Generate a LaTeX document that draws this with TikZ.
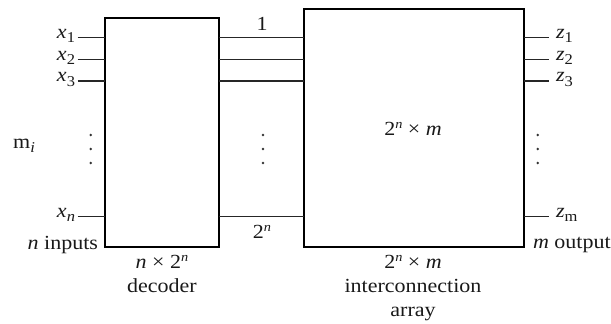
\documentclass[tikz,border=0pt]{standalone}
\usepackage{fontspec}
\setmainfont[FakeStretch=1.1]{Liberation Serif}
\newcommand\lowsub[1]{\raisebox{-0.45ex}{\fontsize{15}{15}\selectfont #1}}
\newcommand\hisup[1]{\raisebox{0.75ex}{\fontsize{13}{13}\selectfont\itshape #1}}
\begin{document}
\begin{tikzpicture}[x=1pt,y=-1pt,
  every node/.style={font=\fontsize{20}{24}\selectfont, text=black!90, inner sep=0pt, outer sep=0pt},
  blockbox/.style={draw=black, line width=2pt, rectangle},
  wire/.style={draw=black!85, line width=1.3pt}]
\useasboundingbox (0,0) rectangle (611,324);
% boxes
\node[blockbox, minimum width=113.7pt, minimum height=229pt] (dec) at (162.2,132.8) {};
\node[blockbox, minimum width=220.3pt, minimum height=238pt] (arr) at (414.2,128.3) {};
% wire end coordinates
\coordinate (in1) at (77.7,37.7);
\coordinate (in2) at (77.7,59.5);
\coordinate (in3) at (77.7,81);
\coordinate (inn) at (77.7,216.5);
\coordinate (out1) at (549,37.7);
\coordinate (out2) at (549,59.5);
\coordinate (out3) at (549,81);
\coordinate (outm) at (549,216.5);
% input wires
\foreach \c in {in1,in2,in3,inn} \draw[wire] (\c) -- (\c -| dec.west);
% decoder to array
\foreach \c in {in1,in2,in3,inn} \draw[wire] (dec.east |- \c) -- (arr.west |- \c);
% output wires
\foreach \c in {out1,out2,out3,outm} \draw[wire] (arr.east |- \c) -- (\c);
% input labels
\node[anchor=east] (lx1) at (75,36) {\textit{x}\lowsub{1}};
\node[anchor=east] (lx2) at (75,58) {\textit{x}\lowsub{2}};
\node[anchor=east] (lx3) at (75,79.5) {\textit{x}\lowsub{3}};
\node[anchor=east] (lxn) at (75,215) {\textit{x}\lowsub{\textit{n}}};
\node[anchor=east] (ninputs) at (98,245) {\textit{n} inputs};
\node (mi) at (24,146) {m\lowsub{\textit{i}}};
% output labels
\node[anchor=west] (lz1) at (556,36) {\textit{z}\lowsub{1}};
\node[anchor=west] (lz2) at (556,58) {\textit{z}\lowsub{2}};
\node[anchor=west] (lz3) at (556,79.5) {\textit{z}\lowsub{3}};
\node[anchor=west] (lzm) at (556,215) {\textit{z}\lowsub{m}};
\node[anchor=west] (moutput) at (533,245) {\textit{m} output};
% middle labels
\node (one) at (262,24) {1};
\node (twon) at (262,232) {2\hisup{n}};
% dots
\foreach \cx in {90.7,263,537.7}{
  \foreach \cy in {135,149,163} \fill[black!80] (\cx,\cy) circle (1.4pt);
}
% box labels
\node (arrlab) at (413,129) {2\hisup{n} × \textit{m}};
\node[align=center, anchor=north] (declab) at (162,255) {\textit{n} × 2\hisup{n}\\decoder};
\node[align=center, anchor=north] (arrcap) at (413,255) {2\hisup{n} × \textit{m}\\interconnection\\array};
\end{tikzpicture}
\end{document}
